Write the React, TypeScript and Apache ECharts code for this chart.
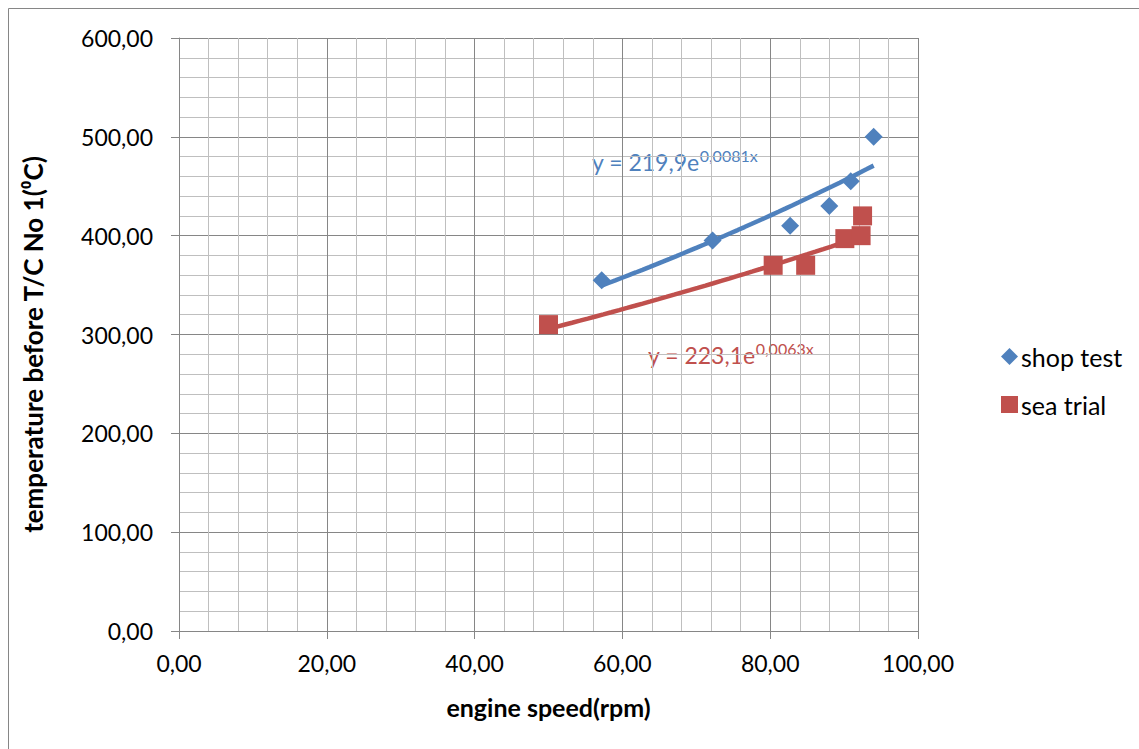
import React, { useEffect, useRef } from "react";
import * as echarts from "echarts";

// Measured engine speed (rpm) and temperature before T/C No 1 (°C)
const shopSpeed = [57.2, 72.2, 82.7, 88.0, 90.9, 94.0];
const shopTemp = [355, 395, 410, 430, 455, 500];
const seaSpeed = [50.0, 80.4, 84.8, 90.1, 92.3, 92.5];
const seaTemp = [310, 370, 370, 397, 400, 420];

// Exponential trendlines y = a * e^(b x)
const shopFitA = 219.9;
const shopFitB = 0.0081;
const seaFitA = 223.1;
const seaFitB = 0.0063;

const seriesNames = ["shop test", "sea trial"];
const BLUE = "#4F81BD";
const RED = "#C0504D";
const FONT = "Lato, 'Open Sans', sans-serif";

const fmt = (v: number) => v.toFixed(2).replace(".", ",");
const fmtCoef = (v: number) => String(v).replace(".", ",");

function trend(xs: number[], a: number, b: number): number[][] {
  const lo = Math.min(...xs);
  const hi = Math.max(...xs);
  const pts: number[][] = [];
  const n = 40;
  for (let i = 0; i <= n; i++) {
    const x = lo + ((hi - lo) * i) / n;
    pts.push([x, a * Math.exp(b * x)]);
  }
  return pts;
}

function equationLabel(a: number, b: number, color: string, x: number, y: number) {
  return {
    type: "text",
    x,
    y,
    silent: true,
    style: {
      text: `{m|y = ${fmtCoef(a)}e}{s|${fmtCoef(b)}x}`,
      verticalAlign: "top",
      fill: color,
      rich: {
        m: { fontFamily: FONT, fontSize: 23, fill: color, lineHeight: 26, verticalAlign: "bottom" },
        s: { fontFamily: FONT, fontSize: 16, fill: color, lineHeight: 26, verticalAlign: "top" },
      },
    },
  };
}

export default function App() {
  const ref = useRef<HTMLDivElement>(null);

  useEffect(() => {
    if (!ref.current) return;
    const chart = echarts.init(ref.current, undefined, { renderer: "svg" });
    const shopPts = shopSpeed.map((x, i) => [x, shopTemp[i]]);
    const seaPts = seaSpeed.map((x, i) => [x, seaTemp[i]]);

    chart.setOption({
      animation: false,
      backgroundColor: "#ffffff",
      grid: { left: 179, right: 221, top: 38, bottom: 118, containLabel: false },
      legend: {
        data: [
          { name: seriesNames[0], icon: "diamond" },
          { name: seriesNames[1], icon: "rect" },
        ],
        orient: "vertical",
        left: 996,
        top: 339,
        itemWidth: 17,
        itemHeight: 17,
        itemGap: 23,
        textStyle: { fontFamily: FONT, fontSize: 25, color: "#000", padding: [0, 0, 0, -2] },
      },
      xAxis: {
        type: "value",
        min: 0,
        max: 100,
        interval: 20,
        name: "engine speed(rpm)",
        nameLocation: "middle",
        nameGap: 63,
        nameTextStyle: { fontFamily: FONT, fontSize: 25, fontWeight: "bold", color: "#000" },
        axisLine: { show: true, lineStyle: { color: "#868686", width: 1 } },
        axisTick: { show: true, length: 8, inside: false, lineStyle: { color: "#868686" } },
        axisLabel: { formatter: fmt, fontFamily: FONT, fontSize: 23, color: "#000", margin: 20 },
        splitLine: { show: true, lineStyle: { color: "#868686", width: 1 } },
        minorTick: { show: false, splitNumber: 5 },
        minorSplitLine: { show: true, lineStyle: { color: "#BFBFBF", width: 1 } },
      },
      yAxis: {
        type: "value",
        min: 0,
        max: 600,
        interval: 100,
        name: "temperature before T/C No 1(⁰C)",
        nameLocation: "middle",
        nameGap: 133,
        nameTextStyle: {
          fontFamily: FONT,
          fontSize: 26,
          fontWeight: "bold",
          color: "#000",
          padding: [0, 20, 0, 0],
        },
        axisLine: { show: true, lineStyle: { color: "#868686", width: 1 } },
        axisTick: { show: true, length: 8, inside: false, lineStyle: { color: "#868686" } },
        axisLabel: { formatter: fmt, fontFamily: FONT, fontSize: 23, color: "#000", margin: 26 },
        splitLine: { show: true, lineStyle: { color: "#868686", width: 1 } },
        minorTick: { show: false, splitNumber: 5 },
        minorSplitLine: { show: true, lineStyle: { color: "#BFBFBF", width: 1 } },
      },
      series: [
        {
          name: "shop trend",
          type: "line",
          data: trend(shopSpeed, shopFitA, shopFitB),
          showSymbol: false,
          lineStyle: { color: BLUE, width: 4.5 },
          itemStyle: { color: BLUE },
          z: 2,
        },
        {
          name: "sea trend",
          type: "line",
          data: trend(seaSpeed, seaFitA, seaFitB),
          showSymbol: false,
          lineStyle: { color: RED, width: 4.5 },
          itemStyle: { color: RED },
          z: 2,
        },
        {
          name: seriesNames[0],
          type: "scatter",
          symbol: "diamond",
          symbolSize: 18,
          data: shopPts,
          itemStyle: { color: BLUE, opacity: 1 },
          z: 3,
        },
        {
          name: seriesNames[1],
          type: "scatter",
          symbol: "rect",
          symbolSize: 19,
          data: seaPts,
          itemStyle: { color: RED, opacity: 1 },
          z: 3,
        },
      ],
      graphic: [
        {
          type: "rect",
          shape: { x: 8.5, y: 8.5, width: 1200, height: 800 },
          style: { fill: "none", stroke: "#868686", lineWidth: 1 },
          silent: true,
        },
        equationLabel(shopFitA, shopFitB, BLUE, 592, 147),
        equationLabel(seaFitA, seaFitB, RED, 648, 340),
      ],
    });
    return () => chart.dispose();
  }, []);

  return (
    <div
      ref={ref}
      style={{ position: "fixed", left: 0, top: 0, width: 1139, height: 749 }}
    />
  );
}
